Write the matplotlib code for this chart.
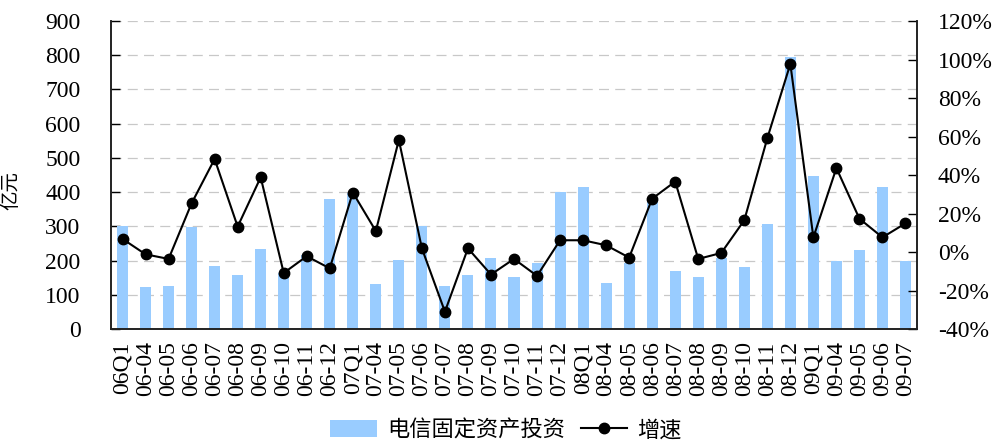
import matplotlib
matplotlib.use("Agg")
import matplotlib.pyplot as plt
from matplotlib.patches import Patch
from matplotlib.lines import Line2D
from matplotlib.ticker import FuncFormatter

plt.rcParams['font.family'] = ['Liberation Serif', 'Noto Sans CJK SC', 'DejaVu Sans']

categories = ["06Q1", "06-04", "06-05", "06-06", "06-07", "06-08", "06-09", "06-10", "06-11", "06-12",
              "07Q1", "07-04", "07-05", "07-06", "07-07", "07-08", "07-09", "07-10", "07-11", "07-12",
              "08Q1", "08-04", "08-05", "08-06", "08-07", "08-08", "08-09", "08-10", "08-11", "08-12",
              "09Q1", "09-04", "09-05", "09-06", "09-07"]
investment = [301, 124, 127, 298, 185, 159, 235, 165, 215, 380,
              397, 132, 202, 301, 127, 158, 208, 152, 193, 400,
              415, 134, 193, 381, 170, 152, 208, 181, 307, 795,
              447, 199, 231, 415, 199]
growth = [6.8, -1.2, -3.6, 25.3, 48.3, 13.2, 38.8, -10.9, -2.2, -8.5,
          30.9, 10.9, 58.2, 1.9, -31.0, 1.9, -11.7, -3.6, -12.4, 6.1,
          6.1, 3.5, -2.9, 27.7, 36.6, -3.6, -0.5, 16.5, 59.1, 97.7,
          7.6, 43.6, 17.3, 7.6, 14.9]
left_ticks = [0, 100, 200, 300, 400, 500, 600, 700, 800, 900]
right_ticks = [-40, -20, 0, 20, 40, 60, 80, 100, 120]

bar_label = "电信固定资产投资"
line_label = "增速"
y_label = "亿元"

fig = plt.figure(figsize=(9.98, 4.43), dpi=100)
ax = fig.add_axes([111/998, 1-329/443, (917-111)/998, (329-21)/443])
ax2 = ax.twinx()

x = list(range(len(categories)))
ax.bar(x, investment, width=0.48, color="#99CCFF", zorder=2)
ax.set_xlim(-0.5, len(categories) - 0.5)
ax.set_ylim(0, 900)
ax.set_yticks(left_ticks)
ax.yaxis.grid(True, color="#C8C8C8", linestyle=(0, (8, 5)), linewidth=0.9, zorder=0)
ax.set_axisbelow(True)

ax.set_xticks(x)
ax.set_xticklabels(categories, rotation=90, fontsize=17)
ax.tick_params(axis='x', length=0, pad=9)
ax.tick_params(axis='y', direction='in', length=6.5, width=1.0, labelsize=17, pad=22)

ax2.plot(x, growth, color="black", linewidth=1.5, marker='o', markersize=7.5, zorder=3)
ax2.set_ylim(-40, 120)
ax2.set_yticks(right_ticks)
ax2.yaxis.set_major_formatter(FuncFormatter(lambda v, p: f"{int(v)}%"))
ax2.tick_params(axis='y', direction='in', length=6.5, width=1.0, labelsize=17, pad=15)

for a in (ax, ax2):
    a.spines['top'].set_visible(False)
    for s in ('left', 'right', 'bottom'):
        a.spines[s].set_linewidth(1.2)
        a.spines[s].set_color("#222222")

ax.set_ylabel(y_label, family=['Noto Sans CJK SC', 'DejaVu Sans'], fontsize=14)
ax.yaxis.set_label_coords(-0.111, 0.45)

handles = [Patch(facecolor="#99CCFF", edgecolor="none", label=bar_label),
           Line2D([0], [0], color="black", linewidth=1.5, marker='o', markersize=7.5, label=line_label)]
leg = fig.legend(handles=handles, loc='center', bbox_to_anchor=(506/998, 1-430/443), ncol=2,
                 frameon=False, prop={'family': ['Noto Sans CJK SC', 'DejaVu Sans'], 'size': 16},
                 handlelength=2.1, handleheight=0.8, handletextpad=0.45, columnspacing=0.7, borderpad=0)

fig.savefig("out.png", dpi=100)
